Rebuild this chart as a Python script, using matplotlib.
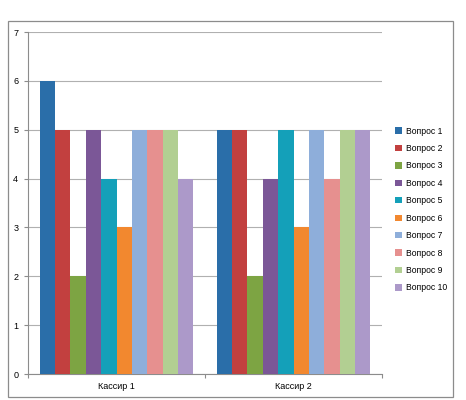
import matplotlib
matplotlib.use("Agg")
import matplotlib.pyplot as plt
from matplotlib.patches import Rectangle
import numpy as np

categories = ["Кассир 1", "Кассир 2"]
series = ["Вопрос 1", "Вопрос 2", "Вопрос 3", "Вопрос 4", "Вопрос 5",
          "Вопрос 6", "Вопрос 7", "Вопрос 8", "Вопрос 9", "Вопрос 10"]
values = [
    [6, 5],
    [5, 5],
    [2, 2],
    [5, 4],
    [4, 5],
    [3, 3],
    [5, 5],
    [5, 4],
    [5, 5],
    [4, 5],
]
colors = ["#2A6EA9", "#C2403F", "#7DA443", "#7B5797", "#14A0B9",
          "#F2882F", "#8EAEDA", "#E6908F", "#B2CF92", "#AC99C9"]

plt.rcParams['font.family'] = ['Liberation Sans', 'DejaVu Sans']

fig = plt.figure(figsize=(4.66, 4.0), dpi=100)
W, H = 466, 400
ax = fig.add_axes([28 / W, (H - 374) / H, 354 / W, (374 - 32) / H])

x = np.arange(len(categories))
w = 1 / 11.5
n = len(series)
for i, (name, vals, c) in enumerate(zip(series, values, colors)):
    ax.bar(x + (i - (n - 1) / 2) * w, vals, width=w, color=c, label=name,
           linewidth=0, zorder=3)

ax.set_xlim(-0.5, len(categories) - 0.5)
ax.set_ylim(0, 7)
ax.set_yticks(range(0, 8))
ax.yaxis.grid(True, color="#B0B0B0", linewidth=0.8, zorder=0)
ax.set_axisbelow(True)
for s in ["top", "right"]:
    ax.spines[s].set_visible(False)
for s in ["left", "bottom"]:
    ax.spines[s].set_color("#8C8C8C")
    ax.spines[s].set_linewidth(0.8)

ax.set_xticks(x)
ax.set_xticklabels(categories)
ax.tick_params(axis="x", length=0, labelsize=6.5, pad=6, colors="#000000")
ax.set_xticks([-0.5, 0.5, 1.5], minor=True)
ax.tick_params(axis="x", which="minor", length=3, color="#8C8C8C", width=0.8)
ax.tick_params(axis="y", length=3, color="#8C8C8C", width=0.8, labelsize=6.5,
               pad=4, labelcolor="#000000")

leg = ax.legend(loc="center left", bbox_to_anchor=(392 / W, (400 - 209.5) / H),
                bbox_transform=fig.transFigure, frameon=False, fontsize=6.2,
                handlelength=0.75, handleheight=0.75, handletextpad=0.5,
                labelspacing=0.98, borderaxespad=0)

fig.patches.append(Rectangle((8 / W, (H - 397) / H), 445 / W, 376 / H,
                             transform=fig.transFigure, fill=False,
                             edgecolor="#8C8C8C", linewidth=0.9))

fig.savefig("out.png", dpi=100)
